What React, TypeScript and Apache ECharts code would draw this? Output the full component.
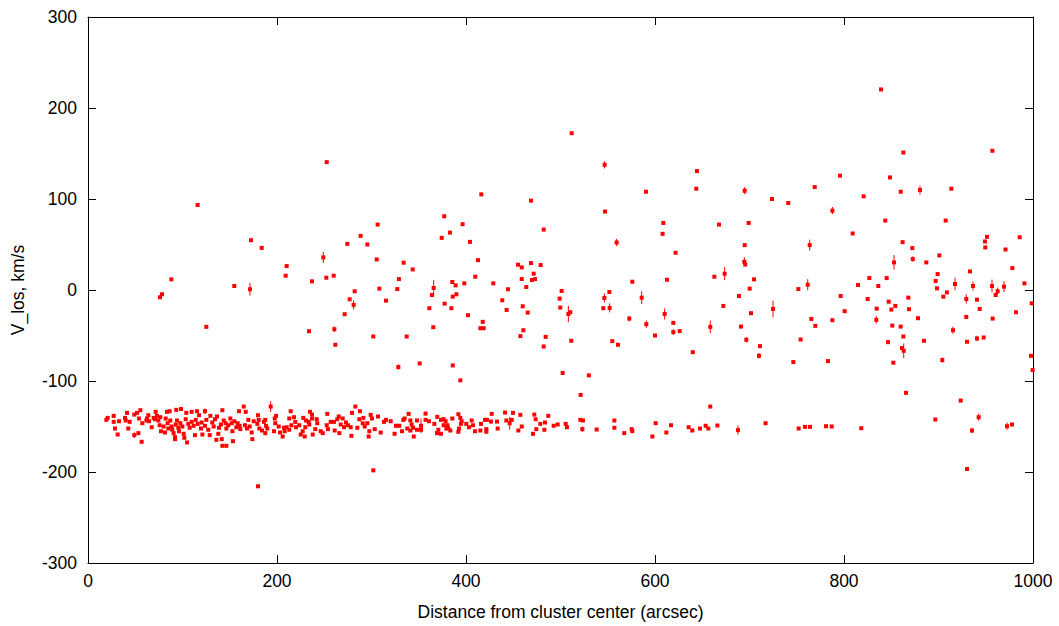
import React, { useEffect, useRef } from "react";
import * as echarts from "echarts";

// [distance arcsec, V_los km/s, error km/s (optional)]
const haloLeft: number[][] = [
  [252.6,140.5],[116,93.4],[306.5,71.9],[288.5,59.5],[274.4,50.7],[295.6,50],[172.5,54.7],[183.8,46.3],
  [249,35.8,6],[305.5,33.6],[334,30],[210.2,26.3],[209.2,15.7],[260,15.7],[252.2,13.5],[237,9.5],[329,12],
  [88.2,11.7],[154.8,4.4],[171.4,0.8,7],[308.3,1.5],[327.3,1],[282.2,-1.4],[78.3,-4.7],[76.2,-8],[276.9,-10.2],
  [281.1,-16.4,5],[315.3,-11.7],[271.6,-26.6],[125.2,-40.5],[233.9,-45.3],[260.7,-43.1,3],[261.7,-60.2],
  [301.9,-51.1],[337.2,-51.1],[328.4,-84.7,3],
];

const haloMid: number[][] = [
  [511.8,172.3],[546.7,137.6,4],[644.4,130.7],[643.7,111.3],[590.5,108],[416.2,105.1],[468.8,98.2],[547.1,86.2],
  [377,81],[608.8,73.7],[396.4,72.3],[667.7,71.9],[482.2,66.4],[383,63.1],[374.3,57.3],[608,61.7],[559.4,52.2,4],
  [404.2,52.9],[621.8,40.9],[412.7,32.8],[343.6,22.6],[455,27.8],[459,24.8],[468.8,29.6],[479,27.4],[471.6,17.9],
  [459,12],[469.8,11],[473,12],[409.8,14.6],[398.2,7.3],[385.5,8.8],[389,5.1],[365.8,2.2,9],[364,-5.5],[428.9,7.3],
  [444.4,0.8],[463.8,3.3],[501.2,-1.1],[499.1,-9.5],[386,-7.3],[389.8,-4.7],[576,9.1],[612.7,11.3],[662.8,14.6],
  [551.7,-2.2],[546.4,-8.8,5],[585.9,-8.4,7],
  [377.4,-15],[361.2,-20],[384.5,-20],[402.1,-27.7],[438.4,-11.3],[443,-21.9],[460,-17.9],[465.3,-24.8],
  [499.8,-19.3],[508.3,-26.3,9],[510.4,-24.4],[545.3,-20],[552,-19.7,5],[417.7,-35],[415.2,-42],[418.7,-42],
  [365.4,-40.9],[460.7,-44.2],[457.5,-50.7],[484.3,-51.5],[482.2,-62.1],[511.4,-55.8],[572.8,-31.4,3],
  [590.8,-37.6,4],[610.2,-26.3,6],[619.4,-36.1],[619.4,-46.3,3],[626.1,-45.2],[600,-50],[554.8,-56.2],
  [560.8,-60.2],[640,-68.3],[658.5,-40.5,7],[351,-80.7],[386,-82.9],[394,-99.3],[502.3,-91.2],[530,-93.8],
  [521.3,-115.3],
];

const haloRight: number[][] = [
  [839.2,220.4],[862.8,151.1],[957,153],[795.8,125.6],[848.7,123.7],[769,113.1],[913.6,111.3],[694.9,109.1,4],
  [860,108],[880.4,109.9,5],[820.8,102.9],[723.8,100],[741,95.6],[787.7,87.2,4],[699.1,73.7],[843.7,76.3],
  [907.6,76.3],[809.2,62.1],[694.9,49.3],[763.7,49.3,6],[862,52.6],[872.3,46],[951.3,58.4],[949.2,53.3],
  [949.5,46.8],[985.9,58],[970.9,44.5],[900.9,38],[872.8,34,3],[887.1,30.3],[694.5,31,5],[695.5,28],
  [852.9,30.3,8],[978.1,24.1],[933.3,20.4],[899.1,17.5],[673.7,17.9,7],[704.8,11.7],[897,9.9],[826.8,13.1],
  [845.1,13.1],[761.6,5.8,6],[814.8,5.5],[836.3,4.4],[917.5,6.6,7],[936.5,4.4,5],[956.6,4.4,7],[969.3,3.7,6],
  [990.9,7.3],[700.2,1.5],[751.7,1],[898.4,1.8],[908.9,-2.6],[962.6,-1.4,4],[960.5,-5.5],[688.9,-6.6],
  [796.5,-6.6],[825,-9.9],[868.1,-8.4],[905.1,-7.3],[929.4,-9.9,5],[940.7,-10.6],
  [672.3,-17.5],[724.9,-20.8,9],[701.6,-25.5],[691,-40.2],[696.6,-54.7,3],[711.1,-61.7],[710.1,-72.3,3],
  [765.4,-31.8],[769.6,-39.4],[800.7,-23.3],[787.7,-33.2],[754.1,-54.4],[746.4,-79.2],[783,-78.1],
  [834.6,-20.5],[834.2,-32.8,4],[847.3,-12.8],[854.3,-17.5],[850.1,-21.5],[868.8,-21.1],[851.1,-39.1],
  [860,-40.2],[862.8,-51.1],[846.6,-57.3],[861.4,-63.8],[863.2,-66.8,8],[852.2,-79.9],[878.3,-31],
  [884.7,-55.8],[865.6,-113],[943.6,-20.8],[929.4,-29.6],[915.3,-44.2,4],[930.2,-56.9],[940.7,-53.3,3],
  [947.8,-52.2],[957.3,-31.4],[982,-24.4],[998.6,-14.6],[904,-77,3],[997.9,-72.3],[999.6,-88],
];

const bandLeft: number[][] = [
  [19.4,-142.7],[20.8,-140.5],[27.2,-138.3],[27.2,-144.9],[28.6,-152.2],[31.4,-158.8],[32.8,-144.2],[39.2,-140.5],
  [39.9,-143.4],[41.3,-135],[44.1,-144.9],[42.6,-152.2],[49,-136.9],[49,-159.5,3],[53.3,-157.3],[51.9,-135],
  [55.4,-132.1],[54,-141.2],[57.5,-146.4],[56.8,-166.8],[61.8,-143.4],[63.8,-137.6],[62.4,-141.2],[64.6,-144.2],
  [67.4,-150.8],[69.5,-140.5],[71.6,-133.9],[70.9,-142],[73,-138.3],[74.4,-143.4],[76.5,-139.8],[77.2,-155.2],
  [75.8,-148.6],[80,-150],[81.5,-156.6],[82.2,-141.2],[83.6,-133.9],[84.3,-146.4],[85,-152.2],[86.4,-133.2],
  [87.1,-143.4],[88.5,-150],[89.2,-153.6],[90.6,-157.3],[92.1,-161.7],[92.1,-163.9],[93.4,-131.7],[92.8,-147.8],
  [94.2,-143.4],[95.6,-151.4],[96.3,-155.2],[98.4,-130.8],[97.7,-146.4],[99.8,-150],[101.2,-158],[101.9,-162.4],
  [104,-135],[104.8,-167.5],[103.4,-142],[106.1,-147.1],[107.6,-151.4],[109.7,-133.9],[109.7,-144.9],[111.8,-149.2],
  [113.2,-159.5],[114,-142.7],[115.3,-133.2],[116.1,-147.1],[117.5,-137.6],[119.6,-152.2],[120.3,-145.6],[121,-158.8],
  [123.8,-133.2,3],[123.8,-149.2],[125.2,-142.7],[127.3,-153.6],[128.8,-159.5],[129.5,-138.3],[131.5,-145.6],
  [133,-150],[134.4,-142],[135.8,-164.6],[136.5,-139],[137.9,-158],[138.6,-151.4],[140.7,-147.8],[141.5,-163.9],
  [142.2,-132.1],[142.2,-171.2],[143.6,-143.4],[145.7,-146.4],[146.4,-171.2],[146.4,-152.2],[148.5,-148.6],
  [150.6,-141.2],[152.1,-146.4],[152.8,-155.2],[153.4,-166.1],[154.9,-144.2],[157,-150.8],[158.4,-146.4],
  [159.8,-133.2],[160.5,-149.2],[161.2,-152.9],[164.8,-128.1],[166.9,-133.9],[166.1,-148.6],[168.3,-152.2],
  [169.7,-142.7],[171.1,-150],[173.2,-156.6],[173.9,-163.9],[175.4,-144.2],
];

const bandCenter: number[][] = [
  [179.9,-137.6],[180.6,-142.7],[179.2,-147.1],[181.3,-152.2],[184.1,-154.4],[186.2,-144.9],[187.6,-142.7],
  [187.6,-157.3],[188.4,-149.2],[189.7,-152.2],[179.9,-215.7],[193.3,-128.1,6],[196.8,-155.2],[197.6,-141.2],
  [199,-138.3],[198.2,-146.4],[201.8,-150],[203.2,-156.6],[206,-161],[207.4,-151.4],[208.1,-155.2],[210.2,-150.8],
  [213,-141.2],[213,-153.6],[214.5,-133.2],[215.2,-148.6],[218,-139.8],[219.4,-144.9],[220.1,-150.8],[223.6,-148.6],
  [225.1,-158.8],[227.2,-155.2],[229.3,-161],[227.8,-140.5],[230,-150.8],[230.7,-143.4],[233.5,-144.9],
  [234.2,-147.8],[234.9,-133.9],[237,-136.9],[237,-141.2],[237.8,-158.8],[240.5,-152.9],[242,-142],[242.6,-146.4],
  [246.2,-155.2],[248.4,-157.3],[252.6,-148.6],[253.2,-136.1],[253.9,-152.9],[256.8,-144.9],[260.3,-144.9],
  [261,-154.4],[263.8,-142],[265.3,-139],[266,-157.3],[267.4,-147.8],[269.5,-141.2],[270.9,-150.8],[273,-145.6],
  [275.1,-148.6],[278,-150.8],[278.7,-160.2],[279.4,-135],[282.9,-128.1],[285,-151.4],[287.1,-142],[287.8,-133.2],
  [291.4,-140.5],[290.7,-146.4],[292.8,-150],[295.6,-146.4],[297,-161],[297.7,-155.2],[299.1,-137.2],[300.5,-141.2],
  [303.4,-152.9],[301.9,-198.2],[306.9,-139],[309.7,-156.6],[313.2,-144.9],[315.3,-142.7],[320.3,-144.2],
  [325.9,-149.2],[324.4,-158],[329.4,-149.2],[332.3,-155.2],[333.7,-142.7],[335.1,-141.2],[337.9,-152.2],
  [339.3,-136.1],
];

const bandMid: number[][] = [
  [341.1,-143.4],[348.1,-143.4],[342.5,-147.8],[341.1,-154.4],[344,-151.4],[348.1,-153.6],[352.4,-149.2,8],
  [352.4,-153.6],[344.7,-161],[357.2,-135.8],[357.2,-142.7],[360.8,-144.2],[366.5,-147.1],[369.6,-139.4],
  [370.7,-153.6],[369.3,-157.3],[373.5,-158],[373.5,-142.7],[376.3,-142],[378.4,-144.2],[376.3,-148.6],
  [379.2,-152.2],[381.3,-152.2],[380.4,-148.6],[383.4,-154.4],[385.5,-141.2],[391.9,-136.5],[394,-140.5],
  [395.4,-144.2],[394.7,-147.1],[392.6,-152.2],[391.9,-155.8],[400.3,-147.1],[403.2,-150.8],[406,-143.4],
  [407.4,-148.6],[409.5,-155.2],[415.2,-154.4],[415.9,-147.1],[420.1,-142.7],[422.2,-142.7],[421.5,-155.8],
  [421.5,-152.9],[426.5,-144.6],[427.2,-136.1],[432.8,-144.6],[433.5,-152.2],[441.3,-134.7],[442.7,-143.4],
  [446.2,-146.4,7],[448.4,-142.7],[449.7,-135],[457.5,-137.2],[459,-150],[455.4,-154.4],[472.3,-136.9],
  [473.7,-142],[478.6,-147.1],[474.4,-152.9],[470.9,-158],[483.6,-145.6],[482.9,-153.6],[487.1,-138.3],
  [492.8,-149.2],[497,-147.8],[505.5,-147.1],[506.9,-150.8],[521,-142.7],[523.8,-143.4],[523.1,-152.9,3],
  [538.3,-153.3],[557,-143.4],[557,-151.4],[567.5,-157.3],[575.3,-152.9],[576,-155.2],[597.2,-161],
  [600.7,-146.4],[612,-156.6],[616.9,-148.6],[635.6,-150.8],[639.5,-154.4],[647.6,-152.2],[653.6,-149.2],
  [656.4,-152.2],[658.5,-128.1],
];

const bandRight: number[][] = [
  [666,-148.9],[687.8,-154,5],[717,-146.4],[752,-152.2],[758.7,-150.4],[764,-150.4],[781,-149.7],[787,-150],
  [818.3,-151.9],[896.6,-142.3],[923.5,-121.5],[942.5,-139.8,4],[935.4,-154.4,3],[930.2,-196.7],
  [972.5,-149.7,4],[977.8,-147.8],
];

const xTicks = { min: 0, max: 1000, step: 200 };
const yTicks = { min: -300, max: 300, step: 100 };
const xTitle = "Distance from cluster center (arcsec)";
const yTitle = "V_los, km/s";

const FONT = "'Liberation Sans', Arial, Helvetica, sans-serif";
const FS = 17.5;

export default function App() {
  const ref = useRef<HTMLDivElement>(null);
  useEffect(() => {
    if (!ref.current) return;
    const chart = echarts.init(ref.current, undefined, { renderer: "svg" });
    const all = [...haloLeft, ...haloMid, ...haloRight, ...bandLeft, ...bandCenter, ...bandMid, ...bandRight];
    const pts = all.map((d) => [d[0], d[1]]);
    const errs = all.filter((d) => (d[2] || 0) > 0).map((d) => [d[0], d[1], d[2]]);
    const axisCommon = {
      axisLine: { show: true, onZero: false, lineStyle: { color: "#000", width: 1 } },
      axisTick: { show: true, inside: true, length: 8, lineStyle: { color: "#000", width: 1 } },
      splitLine: { show: false },
    };
    const fmt = (v: number) => String(v);
    chart.setOption({
      animation: false,
      backgroundColor: "#fff",
      grid: { left: 88, right: 26, top: 17, bottom: 61, containLabel: false },
      xAxis: [
        {
          type: "value", min: xTicks.min, max: xTicks.max, interval: xTicks.step, position: "bottom",
          ...axisCommon,
          axisLabel: { color: "#000", fontSize: FS, fontFamily: FONT, margin: 9, formatter: fmt },
          name: xTitle, nameLocation: "middle", nameGap: 40,
          nameTextStyle: { color: "#000", fontSize: FS, fontFamily: FONT },
        },
        {
          type: "value", min: xTicks.min, max: xTicks.max, interval: xTicks.step, position: "top",
          ...axisCommon, axisLabel: { show: false },
        },
      ],
      yAxis: [
        {
          type: "value", min: yTicks.min, max: yTicks.max, interval: yTicks.step, position: "left",
          ...axisCommon,
          axisLabel: { color: "#000", fontSize: FS, fontFamily: FONT, margin: 11, formatter: fmt },
          name: yTitle, nameLocation: "middle", nameGap: 61, nameRotate: 90,
          nameTextStyle: { color: "#000", fontSize: FS, fontFamily: FONT },
        },
        {
          type: "value", min: yTicks.min, max: yTicks.max, interval: yTicks.step, position: "right",
          ...axisCommon, axisLabel: { show: false },
        },
      ],
      series: [
        {
          type: "custom",
          xAxisIndex: 0, yAxisIndex: 0,
          data: errs,
          encode: { x: 0, y: 1 },
          clip: true,
          z: 1,
          renderItem: (params: any, api: any) => {
            const x = api.value(0), y = api.value(1), e = api.value(2);
            const p1 = api.coord([x, y - e]);
            const p2 = api.coord([x, y + e]);
            return {
              type: "line",
              shape: { x1: p1[0], y1: p1[1], x2: p2[0], y2: p2[1] },
              style: { stroke: "#ff0000", lineWidth: 1 },
            };
          },
        },
        {
          type: "scatter",
          xAxisIndex: 0, yAxisIndex: 0,
          data: pts,
          symbol: "rect",
          symbolSize: 4,
          itemStyle: { color: "#ff0000", opacity: 1 },
          z: 2,
        },
      ],
    });
    return () => chart.dispose();
  }, []);
  return (
    <div
      ref={ref}
      style={{ position: "absolute", left: 0, top: 0, width: 1059, height: 626, background: "#fff" }}
    />
  );
}
